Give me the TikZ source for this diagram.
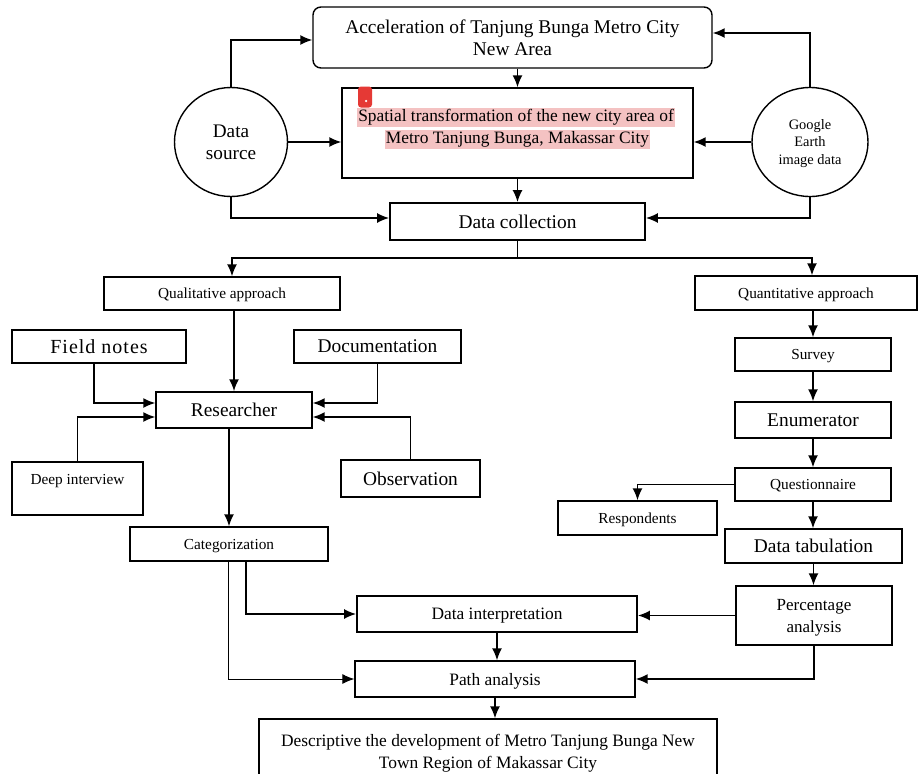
\documentclass[tikz,border=0pt]{standalone}
\usepackage{fontspec}
\setmainfont{Liberation Serif}
\usetikzlibrary{shapes.geometric,arrows.meta}
\definecolor{hl}{HTML}{F4C2C2}
\definecolor{mk}{HTML}{E53935}
\newcommand\fsz[2]{\fontsize{#1}{#2}\selectfont}
\begin{document}
\begin{tikzpicture}[x=1pt,y=-1pt,
  box/.style={draw,line width=1.4pt,inner sep=0pt,align=center,text depth=0pt},
  oval/.style={draw,ellipse,line width=1.4pt,inner sep=0pt,align=center,text depth=0pt},
  arr/.style={line width=1.6pt,-{Latex[length=12pt,width=10pt]}},
  big/.style={font=\fsz{19.4}{22}},
  small/.style={font=\fsz{15.3}{18}},
  mid/.style={font=\fsz{17.4}{22}},
  hlt/.style={fill=hl,inner sep=1pt,text height=13pt,text depth=4pt,font=\fsz{17.4}{22}}]
\fill[white] (0,0) rectangle (919,774);
\useasboundingbox (0,0) rectangle (919,774);
\clip (0,0) rectangle (919,774);

% top part
\node[box,big,rounded corners=8pt,minimum width=399,minimum height=61] (acc) at (512.5,37.5) {Acceleration of Tanjung Bunga Metro City\\New Area};
\node[box,minimum width=351,minimum height=90] (spa) at (517.5,133) {};
\node[hlt] (spa1) at (516,117) {Spatial transformation of the new city area of};
\node[hlt] (spa2) at (517.5,139) {Metro Tanjung Bunga, Makassar City};
\node[fill=mk,rounded corners=3pt,minimum width=14,minimum height=21,inner sep=0pt] (mark) at (365,97) {};
\node[fill=white,circle,inner sep=0pt,minimum size=2.5] (markdot) at (366,101) {};
\node[oval,font=\fsz{19.2}{22},minimum width=113,minimum height=109] (ds) at (231,142) {Data\\source};
\node[oval,font=\fsz{14.4}{17.5},minimum width=116,minimum height=109] (ge) at (810,142) {Google\\Earth\\image data};
\node[box,big,line width=1.8pt,minimum width=255,minimum height=37] (dc) at (517.5,221.5) {Data collection};

% qualitative side
\node[box,small,minimum width=236,minimum height=33] (qual) at (222,293.5) {Qualitative approach};
\node[box,font=\fsz{20}{22}\addfontfeature{LetterSpace=5},minimum width=174,minimum height=33] (fn) at (99,346.5) {Field notes};
\node[box,big,minimum width=167,minimum height=33] (doc) at (377.5,346.5) {Documentation};
\node[box,big,minimum width=156,minimum height=36] (res) at (234,410) {Researcher};
\node[box,minimum width=131,minimum height=53] (di) at (77.5,488.5) {};
\node[small] (dit) at (77.5,481) {Deep interview};
\node[box,big,minimum width=139,minimum height=37] (obs) at (410.5,478.5) {Observation};
\node[box,small,minimum width=198,minimum height=34] (cat) at (229,544) {Categorization};

% quantitative side
\node[box,small,minimum width=222,minimum height=34] (quan) at (806,293) {Quantitative approach};
\node[box,small,minimum width=156,minimum height=33] (sur) at (813,354.5) {Survey};
\node[box,big,minimum width=156,minimum height=36] (enu) at (813,420) {Enumerator};
\node[box,small,minimum width=156,minimum height=33] (que) at (813,484.5) {Questionnaire};
\node[box,small,minimum width=159,minimum height=34] (resp) at (637.5,518) {Respondents};
\node[box,big,minimum width=177,minimum height=34] (tab) at (813.5,546) {Data tabulation};
\node[box,font=\fsz{17}{22},minimum width=156,minimum height=59] (pct) at (814,615.5) {Percentage\\analysis};

% bottom
\node[box,mid,line width=1.8pt,minimum width=280,minimum height=36] (dint) at (497,614) {Data interpretation};
\node[box,mid,minimum width=280,minimum height=36] (path) at (495,679) {Path analysis};
\node[box,mid,minimum width=458,minimum height=64] (desc) at (488,751) {Descriptive the development of Metro Tanjung Bunga New\\Town Region of Makassar City};

% connectors top
\draw[arr] (ds.north) |- ([yshift=-2.5pt]acc.west);
\draw[arr] (ge.north) |- ([yshift=4.5pt]acc.east);
\draw[arr] (ds.east) -- (spa.west |- ds.east);
\draw[arr] (ge.west) -- (spa.east |- ge.west);
\draw[arr] (ds.south) |- ([yshift=3.5pt]dc.west);
\draw[arr] (ge.south) |- ([yshift=3.5pt]dc.east);
\draw[arr] (spa.north |- acc.south) -- (spa.north);
\draw[arr] (spa.south) -- (dc.north);
\coordinate (split) at (517.5,258);
\draw[line width=1.6pt] (dc.south) -- (split);
\draw[arr] (split) -| ([xshift=10pt]qual.north);
\draw[arr] (split) -| ([xshift=6pt]quan.north);

% qualitative connectors
\draw[arr,line width=2pt] (res.north |- qual.south) -- (res.north);
\draw[arr] ([xshift=-5pt]fn.south) |- ([yshift=7pt]res.west);
\draw[arr] (di.north) |- ([yshift=-7pt]res.west);
\draw[arr] (doc.south) |- ([yshift=7pt]res.east);
\draw[arr] (obs.north) |- ([yshift=-7pt]res.east);
\draw[arr] (cat.north |- res.south) -- (cat.north);
\draw[arr] ([xshift=17pt]cat.south) |- (dint.west);
\draw[arr,line width=0.9pt] ([xshift=-1pt]cat.south) |- (path.west);

% quantitative connectors
\draw[arr] (sur.north |- quan.south) -- (sur.north);
\draw[arr] (sur.south) -- (enu.north);
\draw[arr] (enu.south) -- (que.north);
\draw[arr] (que.west) -| (resp.north);
\draw[arr] (que.south) -- (que.south |- tab.north);
\draw[arr] (tab.south) -- (tab.south |- pct.north);
\draw[arr] (pct.west) -- (dint.east |- pct.west);
\draw[arr] (pct.south) |- (path.east);

% bottom connectors
\draw[arr] (dint.south) -- (dint.south |- path.north);
\draw[arr] (path.south) -- (path.south |- desc.north);
\end{tikzpicture}
\end{document}
